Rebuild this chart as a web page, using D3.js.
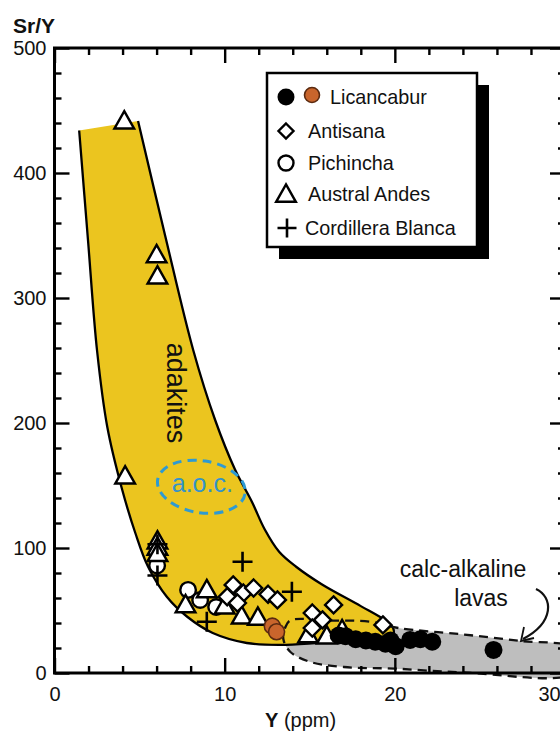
<!DOCTYPE html>
<html><head><meta charset="utf-8">
<script src="https://cdn.jsdelivr.net/npm/d3@7"></script>
<style>html,body{margin:0;padding:0;background:#fff;}svg{display:block;font-family:"Liberation Sans",Arial,sans-serif;}</style>
</head><body><svg id="c" width="560" height="733"></svg>
<script>
// ---------- data (Y ppm, Sr/Y) ----------
const licancaburBlack = [[16.7,30],[17.1,29.5],[17.7,27],[18.3,26],[18.85,25],[19.45,23.5],[20.05,21.5],[19.75,26],[20.9,26.5],[21.5,27],[22.2,25],[25.8,18.5]];
const licancaburOrange = [[12.8,37.5],[13.05,33]];
const antisana = [[10.15,61],[10.5,70.5],[11.1,64],[11.7,68],[10.75,56],[12.55,63],[13.1,58.5],[15.15,48],[16.4,54.5],[15.75,42.5],[15.15,36],[19.3,38.5]];
const pichincha = [[6.03,86],[7.85,66.5],[8.56,58.4],[9.5,52.8]];
const australAndes = [[4.1,441],[6.0,334],[6.05,317],[4.15,157],[6.05,105],[6.05,100],[6.05,95],[7.7,54],[8.95,66],[10.0,53],[11.0,45],[11.95,44],[14.9,30],[16.0,29],[16.9,34]];
const cordilleraBlanca = [[6.05,78],[6.05,103],[11.05,89],[13.95,65],[8.95,41]];
// fields
const adakiteOutline = [[1.45,434],[1.97,346],[2.5,258],[3.1,197],[3.95,148],[4.75,112],[5.5,85],[6.6,61],[7.8,45],[9.3,32],[11.3,24],[13.3,22.5],[16.2,24.5],[19.9,25.6],[19.95,30],[19.9,36],[19.5,41.5],[18.0,53.5],[15.7,71],[14.2,85],[13.2,97],[12.35,115],[11.6,137],[10.6,163],[9.44,202.4],[8.15,258.4],[6.5,350],[4.91,441.6]];
const calcAlkaline = [[13.85,42],[16.2,42],[18.6,41],[20.2,36],[23.9,31],[27.4,25.6],[30.5,19.5],[30.5,0],[24,0.5],[20,3.5],[17,4.8],[15,9],[13.85,17],[13.45,27],[13.55,36]];
const aoc = {cx:8.63, cy:149, rx:2.6, ry:20.8};
const xMajor = [0,10,20,30];
const yMajor = [0,100,200,300,400,500];
const legendItems = ["Licancabur","Antisana","Pichincha","Austral Andes","Cordillera Blanca"];

// ---------- setup ----------
const svg = d3.select("#c");
const x = d3.scaleLinear().domain([0,30]).range([54.5,565]);
const y = d3.scaleLinear().domain([0,500]).range([673,48]);
const YELLOW = "#EBC51F", GRAY = "#BEBEBE", BLUE = "#2E9AD2", ORANGE = "#C9652C";

const lineC = d3.line().x(d=>x(d[0])).y(d=>y(d[1])).curve(d3.curveCatmullRom.alpha(0.5));
const lineCC = d3.line().x(d=>x(d[0])).y(d=>y(d[1])).curve(d3.curveCatmullRomClosed.alpha(0.5));

// calc-alkaline field
svg.append("path").attr("d", lineCC(calcAlkaline)).attr("fill", GRAY).attr("stroke","none");
// adakite field
svg.append("path").attr("d", lineC(adakiteOutline)+"Z").attr("fill", YELLOW).attr("stroke","none");
svg.append("path").attr("d", lineC(adakiteOutline)).attr("fill","none").attr("stroke","#000").attr("stroke-width",2.3);
svg.append("path").attr("d", lineCC(calcAlkaline)).attr("fill","none").attr("stroke","#111").attr("stroke-width",2.3).attr("stroke-dasharray","9,6");

// a.o.c. ellipse
svg.append("ellipse")
  .attr("cx", x(aoc.cx)).attr("cy", y(aoc.cy))
  .attr("rx", x(aoc.cx+aoc.rx)-x(aoc.cx)).attr("ry", y(aoc.cy-aoc.ry)-y(aoc.cy))
  .attr("transform", `rotate(9,${x(aoc.cx)},${y(aoc.cy)})`)
  .attr("fill","none").attr("stroke",BLUE).attr("stroke-width",3).attr("stroke-dasharray","9,6");
svg.append("text").attr("x", x(aoc.cx)+1).attr("y", y(aoc.cy)+5).attr("text-anchor","middle")
  .attr("font-size",25).attr("fill","#3493C8").text("a.o.c.");

// labels
svg.append("text").attr("transform","translate(167,393) rotate(90)").attr("text-anchor","middle")
  .attr("font-size",27).attr("fill","#111").text("adakites");
svg.append("text").attr("x",463).attr("y",577).attr("text-anchor","middle").attr("font-size",23).attr("fill","#111").text("calc-alkaline");
svg.append("text").attr("x",481).attr("y",606).attr("text-anchor","middle").attr("font-size",23).attr("fill","#111").text("lavas");
// arrow
svg.append("path").attr("d","M536,589 C553,597 555,622 523,639").attr("fill","none").attr("stroke","#111").attr("stroke-width",2.2);
svg.append("path").attr("d","M524,627 L521,641 L534,638").attr("fill","none").attr("stroke","#111").attr("stroke-width",1.8);

// ---------- symbols ----------
const sw = 2.4;
const triPath = s => `M0,${-s*0.62}L${s*0.58},${s*0.4}L${-s*0.58},${s*0.4}Z`;
const diaPath = s => `M0,${-s}L${s},0L0,${s}L${-s},0Z`;
const plusPath = s => `M${-s},0H${s}M0,${-s}V${s}`;
function pts(data){ return svg.append("g").selectAll("g").data(data).join("g").attr("transform",d=>`translate(${x(d[0])},${y(d[1])})`); }

pts(pichincha).append("circle").attr("r",7.8).attr("fill","#fff").attr("stroke","#000").attr("stroke-width",sw);
pts(australAndes).append("path").attr("d",triPath(17)).attr("fill","#fff").attr("stroke","#000").attr("stroke-width",sw).attr("stroke-linejoin","miter");
pts(antisana).append("path").attr("d",diaPath(8.5)).attr("fill","#fff").attr("stroke","#000").attr("stroke-width",sw);
pts(cordilleraBlanca).append("path").attr("d",plusPath(10)).attr("fill","none").attr("stroke","#000").attr("stroke-width",2.6);
pts(licancaburBlack).append("circle").attr("r",9).attr("fill","#000");
pts(licancaburOrange).append("circle").attr("r",8).attr("fill",ORANGE).attr("stroke","#5a2a10").attr("stroke-width",1.6);

// ---------- legend ----------
const lg = svg.append("g");
lg.append("rect").attr("x",279).attr("y",85).attr("width",210).attr("height",174).attr("fill","#000");
lg.append("rect").attr("x",267).attr("y",73).attr("width",210).attr("height",174).attr("fill","#fff").attr("stroke","#000").attr("stroke-width",2.5);
const rowY = [97,131,163,194,228];
lg.append("circle").attr("cx",286).attr("cy",rowY[0]).attr("r",8.5).attr("fill","#000");
lg.append("circle").attr("cx",312).attr("cy",rowY[0]-2).attr("r",7.5).attr("fill",ORANGE).attr("stroke","#5a2a10").attr("stroke-width",1.6);
lg.append("path").attr("transform",`translate(286,${rowY[1]})`).attr("d",diaPath(7.5)).attr("fill","#fff").attr("stroke","#000").attr("stroke-width",sw);
lg.append("circle").attr("cx",286).attr("cy",rowY[2]).attr("r",7.5).attr("fill","#fff").attr("stroke","#000").attr("stroke-width",sw);
lg.append("path").attr("transform",`translate(286,${rowY[3]+1})`).attr("d",triPath(17)).attr("fill","#fff").attr("stroke","#000").attr("stroke-width",sw);
lg.append("path").attr("transform",`translate(287,${rowY[4]})`).attr("d",plusPath(9.5)).attr("fill","none").attr("stroke","#000").attr("stroke-width",2.6);
const textX = [330,308,308,308,305];
legendItems.forEach((t,i)=>{
  lg.append("text").attr("x",textX[i]).attr("y",rowY[i]+7).attr("font-size",19.8).attr("fill","#111").text(t);
});

// ---------- axes ----------
const range = (a,b,s)=>d3.range(a,b+1e-9,s);
const xMinor = range(0,30,2).filter(v=>v%10!==0);
const yMinor = range(0,500,20).filter(v=>v%100!==0);
function styleAxis(g){ g.select(".domain").remove(); g.selectAll(".tick line").attr("stroke","#000").attr("stroke-width",2.4); g.selectAll("text").attr("font-size",20).attr("fill","#111").attr("font-family","Liberation Sans, Arial, sans-serif"); }

const gb = svg.append("g").attr("transform",`translate(0,${y(0)})`)
  .call(d3.axisBottom(x).tickValues(xMajor).tickSizeInner(-15).tickSizeOuter(0).tickPadding(14).tickFormat(d3.format("d")));
styleAxis(gb);
gb.selectAll(".tick text").filter(d=>d===30).attr("dx",-16);
svg.append("g").attr("transform",`translate(0,${y(0)})`).call(d3.axisBottom(x).tickValues(xMinor).tickSize(-7).tickFormat("")).call(styleAxis);

const gl = svg.append("g").attr("transform",`translate(${x(0)},0)`)
  .call(d3.axisLeft(y).tickValues(yMajor).tickSizeInner(-15).tickSizeOuter(0).tickPadding(8).tickFormat(d3.format("d")));
styleAxis(gl);
svg.append("g").attr("transform",`translate(${x(0)},0)`).call(d3.axisLeft(y).tickValues(yMinor).tickSize(-7).tickFormat("")).call(styleAxis);

svg.append("g").attr("transform",`translate(0,${y(500)})`).call(d3.axisTop(x).tickValues(xMajor).tickSize(-15).tickFormat("")).call(styleAxis);
svg.append("g").attr("transform",`translate(0,${y(500)})`).call(d3.axisTop(x).tickValues(xMinor).tickSize(-7).tickFormat("")).call(styleAxis);
svg.append("g").attr("transform",`translate(${x(30)},0)`).call(d3.axisRight(y).tickValues(yMajor).tickSize(-15).tickFormat("")).call(styleAxis);
svg.append("g").attr("transform",`translate(${x(30)},0)`).call(d3.axisRight(y).tickValues(yMinor).tickSize(-7).tickFormat("")).call(styleAxis);

// frame
svg.append("rect").attr("x",x(0)).attr("y",y(500)).attr("width",x(30)-x(0)).attr("height",y(0)-y(500))
  .attr("fill","none").attr("stroke","#000").attr("stroke-width",3);

// axis titles
svg.append("text").attr("x",13).attr("y",33).attr("font-size",21).attr("font-weight","bold").attr("fill","#111").text("Sr/Y");
const xt = svg.append("text").attr("x",265).attr("y",727).attr("font-size",20).attr("fill","#111");
xt.append("tspan").attr("font-weight","bold").text("Y");
xt.append("tspan").text(" (ppm)");
</script></body></html>
